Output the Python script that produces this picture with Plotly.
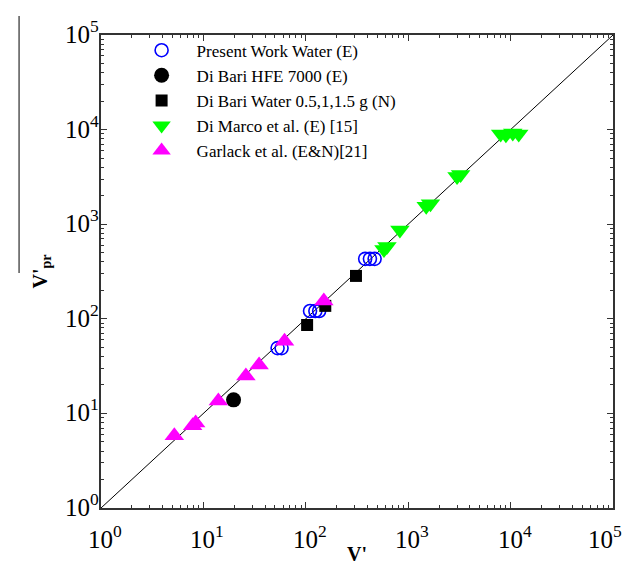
import math
import plotly.graph_objects as go

# Present Work Water (E)
pw_x = [53, 58, 110, 124, 135, 380, 423, 470]
pw_y = [49, 49, 121, 121, 121, 430, 430, 430]
# Di Bari HFE 7000 (E)
dbh_x = [19.7]
dbh_y = [13.9]
# Di Bari Water 0.5,1,1.5 g (N)
dbw_x = [103, 155, 309]
dbw_y = [86, 137, 284]
# Di Marco et al. (E) [15]
dm_x = [580, 620, 830, 1500, 1650, 3000, 3250, 8000, 9000, 10500, 12000]
dm_y = [540, 580, 870, 1550, 1650, 3200, 3350, 9000, 8800, 9200, 9000]
# Garlack et al. (E&N)[21]
gl_x = [5.2, 7.85, 8.4, 14, 26, 35, 62, 150]
gl_y = [5.8, 7.4, 7.9, 13.5, 24.8, 32.5, 58, 154]

line_x = [1, 1e5]
line_y = [1, 1e5]

major = [1, 10, 100, 1000, 10000, 100000]
major_txt = ["10<sup>%d</sup>" % i for i in range(6)]
minor_vals = [m * 10 ** k for k in range(5) for m in range(2, 10)]

serif = "Liberation Serif"

fig = go.Figure()
fig.add_trace(go.Scatter(x=line_x, y=line_y, mode="lines",
                         line=dict(color="black", width=1), showlegend=False))
fig.add_trace(go.Scatter(x=pw_x, y=pw_y, mode="markers", name="Present Work Water (E)",
                         marker=dict(symbol="circle-open", size=13, color="#0000ff",
                                     line=dict(width=1.6, color="#0000ff"))))
fig.add_trace(go.Scatter(x=dbh_x, y=dbh_y, mode="markers", name="Di Bari HFE 7000 (E)",
                         marker=dict(symbol="circle", size=15, color="black")))
fig.add_trace(go.Scatter(x=dbw_x, y=dbw_y, mode="markers", name="Di Bari Water 0.5,1,1.5 g (N)",
                         marker=dict(symbol="square", size=12, color="black")))
fig.add_trace(go.Scatter(x=dm_x, y=dm_y, mode="markers", name="Di Marco et al. (E) [15]",
                         marker=dict(symbol="triangle-down", size=17, color="#00ff00")))
fig.add_trace(go.Scatter(x=gl_x, y=gl_y, mode="markers", name="Garlack et al. (E&N)[21]",
                         marker=dict(symbol="triangle-up", size=17, color="#ff00ff")))

annotations = []
last = len(major) - 1
for i, (v, t) in enumerate(zip(major, major_txt)):
    annotations.append(dict(x=math.log10(v), xref="x", y=0, yref="paper",
                            text=t, showarrow=False, xanchor="center", yanchor="top",
                            xshift=(-8 if i == last else 4), yshift=-11,
                            font=dict(family=serif, size=25, color="black")))
    annotations.append(dict(x=0, xref="paper", y=math.log10(v), yref="y",
                            text=t, showarrow=False, xanchor="right", yanchor="middle",
                            xshift=0, yshift=3, font=dict(family=serif, size=25, color="black")))

fig.update_layout(
    width=630, height=564,
    margin=dict(l=93, r=25, t=27, b=64),
    paper_bgcolor="white", plot_bgcolor="white",
    font=dict(family=serif, size=20, color="black"),
    legend=dict(x=0.05, y=1.005, xanchor="left", yanchor="top", bgcolor="rgba(0,0,0,0)",
                itemwidth=60, font=dict(family=serif, size=17, color="black")),
    annotations=annotations,
    shapes=[dict(type="line", xref="paper", yref="paper", x0=-0.16, x1=-0.16,
                 y0=1.04, y1=0.497, line=dict(color="#555555", width=1.5))],
)

for upd in (fig.update_xaxes, fig.update_yaxes):
    upd(type="log", range=[0, 5], showgrid=False, zeroline=False,
        showline=True, linecolor="#333333", linewidth=1.5, mirror="allticks",
        ticks="inside", ticklen=6, tickwidth=1, tickcolor="#333333",
        dtick=1, showticklabels=False,
        minor=dict(ticks="inside", ticklen=3, tickwidth=1, tickcolor="#333333",
                   tickmode="array", tickvals=minor_vals))

fig.update_xaxes(title=dict(text="<b>V'</b>", font=dict(family=serif, size=20, color="black"), standoff=38))
fig.update_yaxes(title=dict(text="<b>V'<sub>pr</sub></b>", font=dict(family=serif, size=20, color="black"), standoff=46))

fig.write_html("out.html")
